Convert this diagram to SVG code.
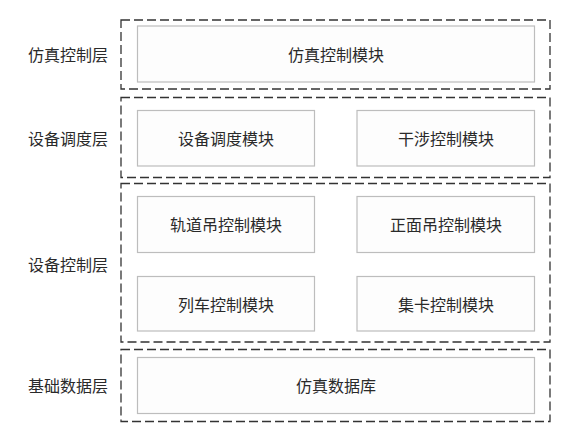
<svg xmlns="http://www.w3.org/2000/svg" width="585" height="443" viewBox="0 0 585 443">
<style>
.layer{fill:none;stroke:#333;stroke-width:1.3;stroke-dasharray:9 4}
.mod{fill:#fdfdfd;stroke:#bdbdbd;stroke-width:1.2}
text{font-family:"Noto Sans CJK SC","Noto Sans",sans-serif;font-size:16px;fill:#2a2a2a;text-anchor:middle;dominant-baseline:central}
</style>
<rect width="585" height="443" fill="#fff"/>
<g id="layer-sim">
<rect class="layer" x="121" y="20" width="429" height="69"/>
<text x="68" y="54">仿真控制层</text>
</g>
<g id="mod-sim"><rect class="mod" x="137.5" y="26" width="397" height="56"/><text x="336" y="54">仿真控制模块</text></g>
<g id="layer-sched">
<rect class="layer" x="121" y="97.5" width="429" height="80"/>
<text x="68" y="138">设备调度层</text>
</g>
<g id="mod-sched"><rect class="mod" x="137.5" y="110.5" width="177" height="55.5"/><text x="226" y="138">设备调度模块</text></g>
<g id="mod-interf"><rect class="mod" x="357" y="110.5" width="177.5" height="55.5"/><text x="446" y="138">干涉控制模块</text></g>
<g id="layer-ctrl">
<rect class="layer" x="121" y="183.5" width="429" height="158.5"/>
<text x="68" y="264">设备控制层</text>
</g>
<g id="mod-rmg"><rect class="mod" x="137.5" y="196.5" width="177" height="56"/><text x="226" y="224">轨道吊控制模块</text></g>
<g id="mod-rs"><rect class="mod" x="357" y="196.5" width="177.5" height="56"/><text x="446" y="224">正面吊控制模块</text></g>
<g id="mod-train"><rect class="mod" x="137.5" y="276.5" width="177" height="54.5"/><text x="226" y="304">列车控制模块</text></g>
<g id="mod-truck"><rect class="mod" x="357" y="276.5" width="177.5" height="54.5"/><text x="446" y="304">集卡控制模块</text></g>
<g id="layer-data">
<rect class="layer" x="121" y="349.5" width="429" height="72"/>
<text x="68" y="385">基础数据层</text>
</g>
<g id="mod-db"><rect class="mod" x="137.5" y="357.5" width="397" height="56"/><text x="336" y="385">仿真数据库</text></g>
<g id="connectors"></g>
</svg>
